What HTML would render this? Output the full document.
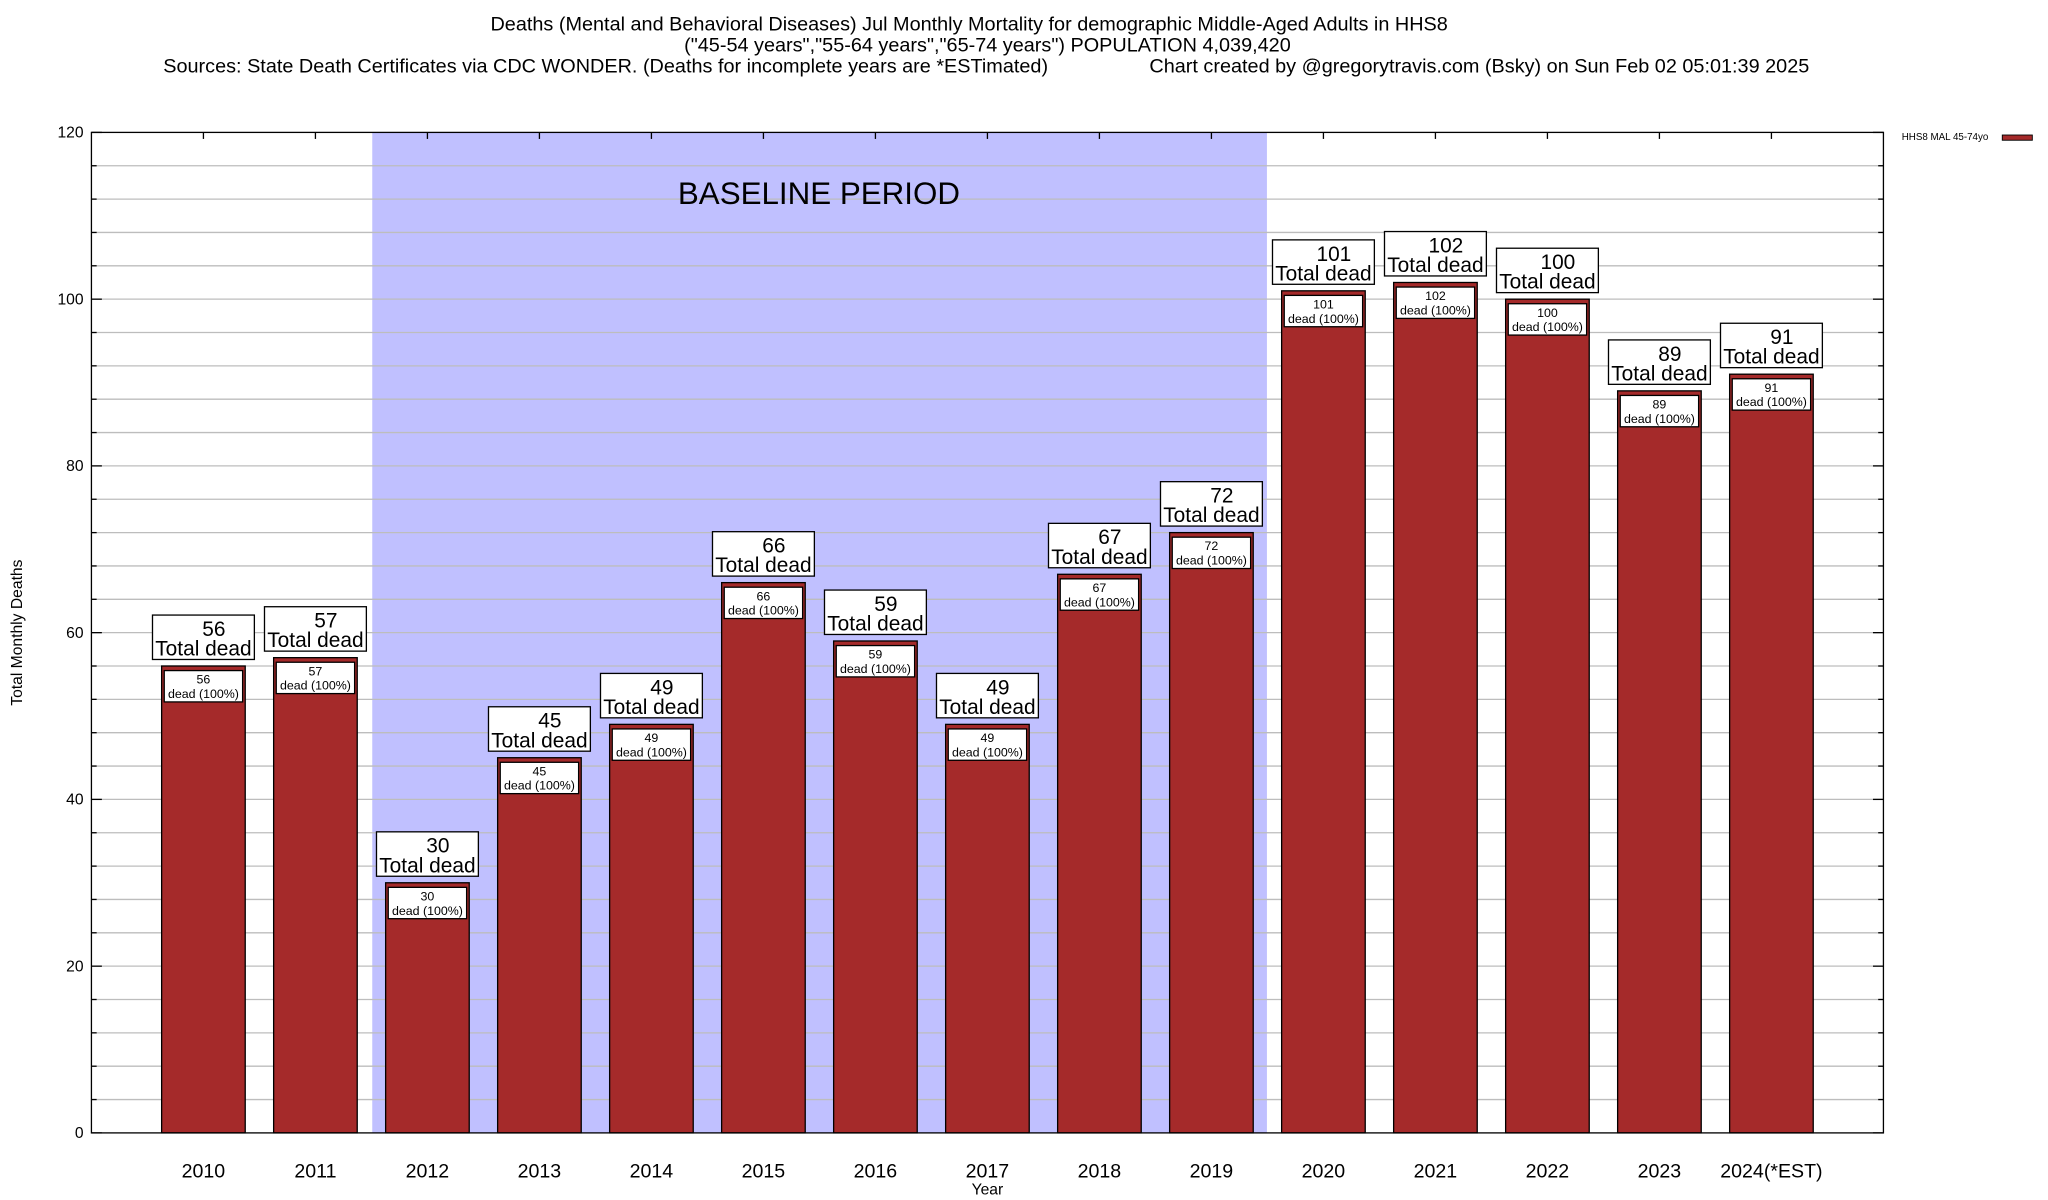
<!DOCTYPE html>
<html><head><meta charset="utf-8"><style>
html,body{margin:0;padding:0;background:#fff}
svg{display:block;font-family:"Liberation Sans",sans-serif}
</style></head><body>
<svg id="chart" width="2048" height="1200" viewBox="0 0 1568 918" xmlns="http://www.w3.org/2000/svg">
<rect x="0" y="0" width="1568" height="918" fill="#fff"/>
<g font-size="15.2" text-anchor="middle" fill="#000">
<text x="742" y="23">Deaths (Mental and Behavioral Diseases) Jul Monthly Mortality for demographic Middle-Aged Adults in HHS8</text>
<text x="756" y="39">("45-54 years","55-64 years","65-74 years") POPULATION 4,039,420</text>
<text x="125" y="55" text-anchor="start">Sources: State Death Certificates via CDC WONDER. (Deaths for incomplete years are *ESTimated)</text>
<text x="880" y="55" text-anchor="start">Chart created by @gregorytravis.com (Bsky) on Sun Feb 02 05:01:39 2025</text>
</g>
<rect x="285" y="101" width="685" height="766" fill="#c0c0ff"/>
<g id="grid"></g>
<text x="627" y="156" font-size="24" text-anchor="middle">BASELINE PERIOD</text>
<g id="bars"></g>
<rect x="70" y="101" width="1372" height="766" fill="none" stroke="#000" stroke-width="1"/>
<text transform="translate(17,484) rotate(-90)" font-size="12" text-anchor="middle">Total Monthly Deaths</text>
<text x="756" y="914" font-size="12" text-anchor="middle">Year</text>
<g>
<text x="1456" y="107" font-size="7.5">HHS8 MAL 45-74yo</text>
<rect x="1533" y="103" width="23" height="4" fill="#a52a2a" stroke="#000" stroke-width="0.7"/>
</g>
</svg>
<script>
const years = ["2010","2011","2012","2013","2014","2015","2016","2017","2018","2019","2020","2021","2022","2023","2024(*EST)"];
const deaths = [56,57,30,45,49,66,59,49,67,72,101,102,100,89,91];
const yTicks = [0,20,40,60,80,100,120];

const NS="http://www.w3.org/2000/svg";
const L=70,R=1442,T=101,B=867,YMAX=120;
const step=(R-L)/(years.length+1);
const xPos=i=>L+(i+1)*step;
const yPos=v=>B-v*(B-T)/YMAX;
function mk(tag,attrs,parent,txt){const e=document.createElementNS(NS,tag);for(const k in attrs)e.setAttribute(k,attrs[k]);if(txt!==undefined)e.textContent=txt;parent.appendChild(e);return e;}
const grid=document.getElementById('grid'), bars=document.getElementById('bars');
for(let v=0;v<=YMAX;v+=4){
  if(v>0&&v<YMAX){const g=mk('line',{x1:L,x2:R,y1:yPos(v),y2:yPos(v),stroke:'#bdbdbd','stroke-width':1},grid);
  
  }
  const big=v%20===0;
  mk('line',{x1:L,x2:L+(big?8:4),y1:yPos(v),y2:yPos(v),stroke:'#000'},grid);
  mk('line',{x1:R,x2:R-(big?8:4),y1:yPos(v),y2:yPos(v),stroke:'#000'},grid);
}
yTicks.forEach(v=>{const t=mk('text',{x:L-6,y:yPos(v)+4,'font-size':12,'text-anchor':'end'},grid,String(v));

});
const bw=64;
years.forEach((y,i)=>{
  const cx=xPos(i),v=deaths[i],top=yPos(v);
  mk('line',{x1:cx,x2:cx,y1:T,y2:T+5,stroke:'#000'},grid);
  mk('line',{x1:cx,x2:cx,y1:B,y2:B-5,stroke:'#000'},grid);
  const b=mk('rect',{x:cx-bw/2,y:top,width:bw,height:B-top,fill:'#a52a2a',stroke:'#000','stroke-width':1},bars);
  
  
  mk('rect',{x:cx-bw/2+2,y:top+3.5,width:bw-4,height:24,fill:'#fff',stroke:'#000','stroke-width':1},bars);
  mk('text',{x:cx,y:top+13.5,'font-size':9.5,'text-anchor':'middle'},bars,String(v));
  mk('text',{x:cx,y:top+24.5,'font-size':9.5,'text-anchor':'middle'},bars,'dead (100%)');
  const box=mk('rect',{x:cx-39,y:top-39,width:78,height:34,fill:'#fff',stroke:'#000','stroke-width':1},bars);
  
  
  mk('text',{x:cx+8,y:top-23,'font-size':16,'text-anchor':'middle'},bars,String(v));
  mk('text',{x:cx,y:top-8,'font-size':16,'text-anchor':'middle'},bars,'Total dead');
  const xl=mk('text',{x:cx,y:901,'font-size':15,'text-anchor':'middle'},grid,y);
  
  
});
</script>
</body></html>
